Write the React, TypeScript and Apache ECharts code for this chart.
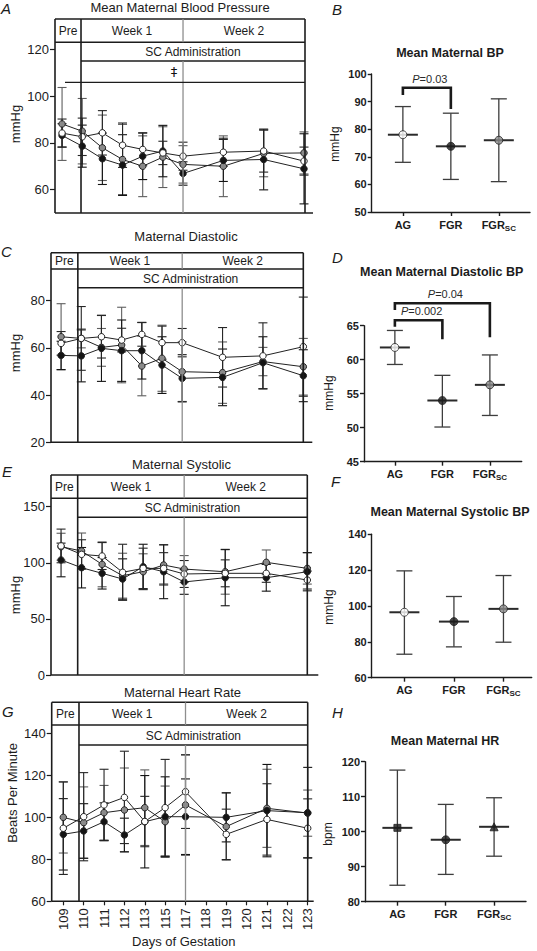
import React, { useEffect, useRef } from "react";
import * as echarts from "echarts";

const FONT = "'Liberation Sans', Arial, Helvetica, sans-serif";
const INK = "#1c1c1c";
const GRAY_LINE = "#8e8e8e";

// ---------- categories ----------
const DAY_LABELS = ["109", "110", "111", "112", "113", "115", "117", "118", "119", "120", "121", "122", "123"];
const MEASURED_DAYS = ["109", "110", "111", "112", "113", "115", "117", "119", "121", "123"];
const GROUPS = ["AG", "FGR", "FGR_SC"];

// ---------- A: Mean Maternal Blood Pressure (mmHg) ----------
const A_AG = [84.2, 82.6, 84.3, 79.0, 77.2, 75.7, 74.3, 76.0, 76.5, 72.2];
const A_AG_SD = [6, 8, 9.5, 9.5, 7, 5, 6, 6, 9, 6];
const A_FGR = [83.2, 78.6, 73.2, 70.5, 74.3, 76.5, 66.9, 72.5, 72.9, 68.9];
const A_FGR_SD = [5, 9, 11, 13, 10, 11, 5, 9, 13, 15];
const A_SC = [88.1, 85.0, 77.9, 72.9, 70.0, 73.9, 70.8, 70.0, 75.5, 75.7];
const A_SC_SD = [15.6, 14, 14, 15, 13, 13, 8, 13, 10, 9];

// ---------- C: Maternal Diastolic (mmHg) ----------
const C_AG = [61.9, 64.0, 64.7, 63.3, 65.7, 62.2, 62.2, 56.0, 56.6, 60.5];
const C_AG_SD = [5, 13.5, 9, 5, 5, 7, 6, 12.6, 14, 21];
const C_FGR = [56.8, 56.6, 59.8, 58.8, 58.8, 52.7, 47.1, 47.5, 53.7, 48.2];
const C_FGR_SD = [6, 11, 14, 13, 12, 12, 10, 12, 11, 11];
const C_SC = [64.7, 64.0, 60.2, 61.2, 52.3, 55.6, 49.9, 49.5, 54.2, 52.0];
const C_SC_SD = [14, 4, 8, 16, 12.6, 14, 12.6, 13, 6, 12];

// ---------- E: Maternal Systolic (mmHg) ----------
const E_AG = [115.0, 107.5, 106.0, 91.5, 95.0, 95.0, 90.0, 90.6, 90.6, 84.6];
const E_AG_SD = [15, 13, 12, 25, 18, 14, 12, 12, 8, 8];
const E_FGR = [102.5, 95.6, 90.6, 85.5, 96.5, 92.0, 82.9, 86.7, 86.7, 92.0];
const E_FGR_SD = [15, 18, 14, 18, 20, 24, 11, 25, 12, 17];
const E_SC = [114.3, 110.5, 98.6, 88.5, 92.0, 98.0, 94.4, 92.0, 100.4, 95.0];
const E_SC_SD = [12, 16, 20, 20, 16, 18, 12, 20, 11, 14];

// ---------- G: Maternal Heart Rate (bpm) ----------
const G_AG = [94.8, 100.3, 105.9, 109.5, 98.0, 104.6, 112.2, 91.9, 99.0, 94.8];
const G_AG_SD = [22, 21, 17, 22, 12, 23, 17.5, 12, 17, 14];
const G_FGR = [91.9, 93.5, 97.9, 91.6, 97.9, 100.3, 100.3, 100.0, 103.2, 102.2];
const G_FGR_SD = [17, 13, 9, 8, 22, 19, 18, 11.7, 22, 21.6];
const G_SC = [100.0, 97.5, 102.2, 103.5, 104.6, 97.9, 105.9, 95.6, 104.3, 102.0];
const G_SC_SD = [17, 17, 13, 20, 18, 17, 24, 16, 18.6, 11];

// ---------- B: Mean Maternal BP ----------
const B_MEAN = [78.0, 73.8, 76.0];
const B_LOW = [68.0, 61.8, 61.0];
const B_HIGH = [88.2, 85.8, 91.0];
const B_SIG = [[0, 1, 95.0, 92.4, 87.3]];
const B_SIG_P = ["0.03"];

// ---------- D: Mean Maternal Diastolic BP ----------
const D_MEAN = [61.8, 54.0, 56.3];
const D_LOW = [59.3, 50.1, 51.8];
const D_HIGH = [64.3, 57.7, 60.7];
const D_SIG = [[0, 1, 65.8, 64.85, 63.0], [0, 2, 68.3, 67.3, 63.3]];
const D_SIG_P = ["0.002", "0.04"];

// ---------- F: Mean Maternal Systolic BP ----------
const F_MEAN = [96.5, 91.3, 98.4];
const F_LOW = [73.1, 77.2, 79.8];
const F_HIGH = [119.6, 105.3, 117.0];

// ---------- H: Mean Maternal HR ----------
const H_MEAN = [101.1, 97.7, 101.4];
const H_LOW = [84.7, 87.8, 93.0];
const H_HIGH = [117.6, 107.8, 109.7];

// ---------- layout ----------
const LEFT_PANELS = [
  {
    letter: "A", letterX: 1, letterY: 8, title: "Mean Maternal Blood Pressure", titleX: 180, titleY: 7,
    yName: "mmHg", yNameX: 15, yNameY: 124,
    left: 55, right: 305, top: 19, bottom: 213, row1: 42.3, row2: 61, axisExt: 8,
    xMin: -0.35, xMax: 12.05, yMin: 50, yMax: 133, yTicks: [60, 80, 100, 120], preIdx: 0.94, weekIdx: 6,
    dagger: true, xLabels: false,
    ag: A_AG, agSd: A_AG_SD, fgr: A_FGR, fgrSd: A_FGR_SD, sc: A_SC, scSd: A_SC_SD,
  },
  {
    letter: "C", letterX: 1, letterY: 251, title: "Maternal Diastolic", titleX: 186, titleY: 236,
    yName: "mmHg", yNameX: 15, yNameY: 353,
    left: 51, right: 303.3, top: 252.7, bottom: 442.3, row1: 269, row2: 287.7, axisExt: 9,
    xMin: -0.5, xMax: 12, yMin: 20, yMax: 100.3, yTicks: [20, 40, 60, 80], preIdx: 0.83, weekIdx: 6,
    dagger: false, xLabels: false,
    ag: C_AG, agSd: C_AG_SD, fgr: C_FGR, fgrSd: C_FGR_SD, sc: C_SC, scSd: C_SC_SD,
  },
  {
    letter: "E", letterX: 2, letterY: 471, title: "Maternal Systolic", titleX: 181.5, titleY: 464.5,
    yName: "mmHg", yNameX: 15, yNameY: 595,
    left: 51, right: 307.3, top: 475, bottom: 675, row1: 498.3, row2: 517.3, axisExt: 11,
    xMin: -0.49, xMax: 12, yMin: 0, yMax: 178.2, yTicks: [0, 50, 100, 150], preIdx: 0.81, weekIdx: 6,
    dagger: false, xLabels: false,
    ag: E_AG, agSd: E_AG_SD, fgr: E_FGR, fgrSd: E_FGR_SD, sc: E_SC, scSd: E_SC_SD,
  },
  {
    letter: "G", letterX: 2, letterY: 711, title: "Maternal Heart Rate", titleX: 182.5, titleY: 692.7,
    yName: "Beats Per Minute", yNameX: 12, yNameY: 793,
    left: 51.7, right: 307.7, top: 702.3, bottom: 901.3, row1: 725, row2: 745, axisExt: 6,
    xMin: -0.57, xMax: 12, yMin: 60, yMax: 154.8, yTicks: [60, 80, 100, 120, 140], preIdx: 0.77, weekIdx: 6,
    dagger: false, xLabels: true,
    ag: G_AG, agSd: G_AG_SD, fgr: G_FGR, fgrSd: G_FGR_SD, sc: G_SC, scSd: G_SC_SD,
  },
];

const RIGHT_PANELS = [
  {
    letter: "B", letterX: 332, letterY: 9, title: "Mean Maternal BP", titleX: 450, titleY: 53,
    yName: "mmHg", yNameX: 335, yNameY: 144,
    left: 371.7, right: 530, top: 74, bottom: 212, xMin: -0.65, xMax: 2.65, yMin: 50, yMax: 100, yInterval: 10,
    mean: B_MEAN, low: B_LOW, high: B_HIGH, sig: B_SIG, sigP: B_SIG_P, shapes: ["circle", "circle", "circle"],
    fills: ["#ffffff", "#1a1a1a", "#8a8a8a"],
  },
  {
    letter: "D", letterX: 332, letterY: 257, title: "Mean Maternal Diastolic BP", titleX: 441.7, titleY: 271.7,
    yName: "mmHg", yNameX: 329, yNameY: 393,
    left: 364, right: 521.7, top: 325.7, bottom: 461.7, xMin: -0.65, xMax: 2.67, yMin: 45, yMax: 65, yInterval: 5,
    mean: D_MEAN, low: D_LOW, high: D_HIGH, sig: D_SIG, sigP: D_SIG_P, shapes: ["circle", "circle", "circle"],
    fills: ["#ffffff", "#1a1a1a", "#8a8a8a"],
  },
  {
    letter: "F", letterX: 331, letterY: 481, title: "Mean Maternal Systolic BP", titleX: 450, titleY: 512.3,
    yName: "mmHg", yNameX: 329, yNameY: 607,
    left: 371.7, right: 531.7, top: 534.3, bottom: 677.7, xMin: -0.66, xMax: 2.57, yMin: 60, yMax: 140, yInterval: 20,
    mean: F_MEAN, low: F_LOW, high: F_HIGH, sig: [], sigP: [], shapes: ["circle", "circle", "circle"],
    fills: ["#ffffff", "#1a1a1a", "#8a8a8a"],
  },
  {
    letter: "H", letterX: 332, letterY: 712, title: "Mean Maternal HR", titleX: 445, titleY: 741,
    yName: "bpm", yNameX: 328, yNameY: 834,
    left: 365, right: 526, top: 761.7, bottom: 901.7, xMin: -0.67, xMax: 2.66, yMin: 80, yMax: 120, yInterval: 10,
    mean: H_MEAN, low: H_LOW, high: H_HIGH, sig: [], sigP: [], shapes: ["rect", "circle", "triangle"],
    fills: ["#1a1a1a", "#1a1a1a", "#1a1a1a"],
  },
];

const SERIES_STYLE = [
  { key: "sc", fill: "#8a8a8a", err: "#5e5e5e" },
  { key: "fgr", fill: "#141414", err: "#141414" },
  { key: "ag", fill: "#ffffff", err: "#262626" },
];

function txt(text: string, x: number, y: number, opts: any = {}) {
  const align = opts.align || "center";
  const va = opts.verticalAlign || "middle";
  return {
    type: "text",
    x,
    y,
    rotation: opts.rotation || 0,
    silent: true,
    z: 20,
    style: {
      text,
      fill: opts.fill || INK,
      fontSize: opts.fontSize || 12,
      fontFamily: opts.fontFamily || FONT,
      fontWeight: opts.fontWeight || "normal",
      fontStyle: opts.fontStyle || "normal",
      align,
      verticalAlign: va,
      textAlign: align,
      textVerticalAlign: va,
    },
  };
}

function seg(x1: number, y1: number, x2: number, y2: number, stroke: string, lineWidth: number) {
  return { type: "line", silent: true, z: 15, shape: { x1, y1, x2, y2 }, style: { stroke, lineWidth } };
}

function errorBarRender(color: string, cap: number, width: number) {
  return (params: any, api: any) => {
    const x = api.value(0);
    const lo = api.coord([x, api.value(1)]);
    const hi = api.coord([x, api.value(2)]);
    const style = { stroke: color, lineWidth: width, fill: "none" };
    return {
      type: "group",
      children: [
        { type: "line", shape: { x1: lo[0], y1: lo[1], x2: hi[0], y2: hi[1] }, style },
        { type: "line", shape: { x1: lo[0] - cap, y1: lo[1], x2: lo[0] + cap, y2: lo[1] }, style },
        { type: "line", shape: { x1: hi[0] - cap, y1: hi[1], x2: hi[0] + cap, y2: hi[1] }, style },
      ],
    };
  };
}

function meanBarRender(color: string) {
  return (params: any, api: any) => {
    const x = api.value(0);
    const m = api.coord([x, api.value(1)]);
    const lo = api.coord([x, api.value(2)]);
    const hi = api.coord([x, api.value(3)]);
    const thin = { stroke: color, lineWidth: 1.3, fill: "none" };
    const thick = { stroke: "#2a2a2a", lineWidth: 2, fill: "none" };
    return {
      type: "group",
      children: [
        { type: "line", shape: { x1: lo[0], y1: lo[1], x2: hi[0], y2: hi[1] }, style: thin },
        { type: "line", shape: { x1: lo[0] - 8, y1: lo[1], x2: lo[0] + 8, y2: lo[1] }, style: thin },
        { type: "line", shape: { x1: hi[0] - 8, y1: hi[1], x2: hi[0] + 8, y2: hi[1] }, style: thin },
        { type: "line", shape: { x1: m[0] - 15, y1: m[1], x2: m[0] + 15, y2: m[1] }, style: thick },
      ],
    };
  };
}

function bracketRender(labels: string[]) {
  return (params: any, api: any) => {
    const x1 = api.value(0);
    const x2 = api.value(1);
    const top = api.value(2);
    const pA = api.coord([x1, api.value(3)]);
    const pB = api.coord([x1, top]);
    const pC = api.coord([x2, top]);
    const pD = api.coord([x2, api.value(4)]);
    const label = labels[params.dataIndex];
    return {
      type: "group",
      children: [
        {
          type: "polyline",
          shape: { points: [pA, pB, pC, pD] },
          style: { stroke: "#1a1a1a", lineWidth: 2.6, fill: "none" },
        },
        {
          type: "text",
          x: (pB[0] + pC[0]) / 2 + 3,
          y: pB[1] - 9,
          style: {
            text: `{i|P}{n|=${label}}`,
            align: "center",
            verticalAlign: "middle",
            textAlign: "center",
            textVerticalAlign: "middle",
            rich: {
              i: { fontSize: 11, fontStyle: "italic", fontFamily: FONT, fill: "#2a2a2a", color: "#2a2a2a" },
              n: { fontSize: 11, fontFamily: FONT, fill: "#2a2a2a", color: "#2a2a2a" },
            },
          },
        },
      ],
    };
  };
}

const groupLabel = (g: string) => (g === "FGR_SC" ? "{b|FGR}{s|SC}" : `{b|${g}}`);

function buildOption() {
  const grid: any[] = [];
  const xAxis: any[] = [];
  const yAxis: any[] = [];
  const series: any[] = [];
  const graphic: any[] = [];
  const DAY_IDX = DAY_LABELS.map((_, i) => i);

  LEFT_PANELS.forEach((p: any, gi: number) => {
    const width = p.right - p.left;
    const height = p.bottom - p.top;
    grid.push({ left: p.left, top: p.top, width, height, containLabel: false });
    xAxis.push({
      type: "value",
      gridIndex: gi,
      min: p.xMin,
      max: p.xMax,
      splitLine: { show: false },
      axisLine: { show: false, onZero: false },
      axisTick: { show: p.xLabels, customValues: DAY_IDX, length: 4, lineStyle: { color: INK, width: 1.2 } },
      axisLabel: {
        show: p.xLabels,
        customValues: DAY_IDX,
        rotate: 90,
        margin: 7,
        fontSize: 13,
        fontFamily: FONT,
        color: INK,
        formatter: (v: number) => DAY_LABELS[Math.round(v)] ?? "",
      },
    });
    yAxis.push({
      type: "value",
      gridIndex: gi,
      min: p.yMin,
      max: p.yMax,
      splitLine: { show: false },
      axisLine: { show: false, onZero: false },
      axisTick: { show: true, customValues: p.yTicks, length: 5, lineStyle: { color: INK, width: 1.2 } },
      axisLabel: { customValues: p.yTicks, margin: 6, fontSize: 13, fontFamily: FONT, color: INK },
    });

    SERIES_STYLE.forEach((s) => {
      const mean: number[] = p[s.key];
      const sd: number[] = p[s.key + "Sd"];
      series.push({
        type: "custom",
        xAxisIndex: gi,
        yAxisIndex: gi,
        z: 2,
        silent: true,
        encode: { x: 0, y: [1, 2] },
        renderItem: errorBarRender(s.err, 4.5, 1.1),
        data: MEASURED_DAYS.map((d, i) => [DAY_LABELS.indexOf(d), mean[i] - sd[i], mean[i] + sd[i]]),
      });
    });
    SERIES_STYLE.forEach((s) => {
      const mean: number[] = p[s.key];
      series.push({
        type: "line",
        xAxisIndex: gi,
        yAxisIndex: gi,
        z: 3,
        silent: true,
        symbol: "circle",
        symbolSize: 6.5,
        showSymbol: true,
        lineStyle: { color: "#222", width: 1 },
        itemStyle: { color: s.fill, borderColor: "#222", borderWidth: 1 },
        emphasis: { disabled: true },
        data: MEASURED_DAYS.map((d, i) => [DAY_LABELS.indexOf(d), mean[i]]),
      });
    });

    // header boxes
    const px = (idx: number) => p.left + ((idx - p.xMin) / (p.xMax - p.xMin)) * width;
    const L = p.left, R = p.right, T = p.top, B = p.bottom;
    const P = px(p.preIdx);
    const W = px(p.weekIdx);
    const lw = 1.6;
    graphic.push(seg(L, T, R, T, INK, lw));
    graphic.push(seg(L, T, L, B, INK, lw));
    graphic.push(seg(R, T, R, B, INK, lw));
    graphic.push(seg(L, p.row1, R, p.row1, INK, lw));
    graphic.push(seg(P, p.row2, R, p.row2, INK, lw));
    graphic.push(seg(P, T, P, B, INK, lw));
    graphic.push(seg(L, B, R + p.axisExt, B, INK, lw));
    graphic.push(seg(W, T, W, p.row1, GRAY_LINE, 1.3));
    graphic.push(seg(W, p.row2, W, B, GRAY_LINE, 1.3));
    const r1c = (T + p.row1) / 2 + 0.5;
    graphic.push(txt("Pre", (L + P) / 2, r1c));
    graphic.push(txt("Week 1", (P + W) / 2, r1c));
    graphic.push(txt("Week 2", (W + R) / 2, r1c));
    graphic.push(txt("SC Administration", (P + R) / 2, (p.row1 + p.row2) / 2 + 0.5));
    if (p.dagger) {
      const dy = p.row2 + 21.3;
      graphic.push(seg(L + 10, dy, R, dy, INK, 1.3));
      graphic.push(txt("\u2021", W - 9, (p.row2 + dy) / 2, { fontSize: 13, fontFamily: "'DejaVu Sans', 'Liberation Sans', sans-serif", fill: "#111111" }));
    }
    graphic.push(txt(p.title, p.titleX, p.titleY, { fontSize: 13 }));
    graphic.push(txt(p.letter, p.letterX, p.letterY, { fontSize: 15, fontStyle: "italic", align: "left" }));
    graphic.push(txt(p.yName, p.yNameX, p.yNameY, { fontSize: 13, rotation: Math.PI / 2 }));
    if (p.xLabels) {
      graphic.push(txt("Days of Gestation", (L + R) / 2 + 4, 941, { fontSize: 13 }));
    }
  });

  RIGHT_PANELS.forEach((p: any, k: number) => {
    const gi = LEFT_PANELS.length + k;
    const width = p.right - p.left;
    const height = p.bottom - p.top;
    grid.push({ left: p.left, top: p.top, width, height, containLabel: false });
    xAxis.push({
      type: "value",
      gridIndex: gi,
      min: p.xMin,
      max: p.xMax,
      splitLine: { show: false },
      axisLine: { show: true, onZero: false, lineStyle: { color: INK, width: 1.4 } },
      axisTick: { show: true, customValues: [0, 1, 2], length: 4, lineStyle: { color: INK, width: 1.4 } },
      axisLabel: {
        customValues: [0, 1, 2],
        margin: 7,
        formatter: (v: number) => groupLabel(GROUPS[Math.round(v)] ?? ""),
        rich: {
          b: { fontSize: 11, fontWeight: "bold", fontFamily: FONT, color: INK, verticalAlign: "top", lineHeight: 13 },
          s: { fontSize: 8, fontWeight: "bold", fontFamily: FONT, color: INK, verticalAlign: "bottom", lineHeight: 9, padding: [7, 0, 0, 0] },
        },
      },
    });
    yAxis.push({
      type: "value",
      gridIndex: gi,
      min: p.yMin,
      max: p.yMax,
      interval: p.yInterval,
      splitLine: { show: false },
      axisLine: { show: true, onZero: false, lineStyle: { color: INK, width: 1.4 } },
      axisTick: { show: true, length: 4, lineStyle: { color: INK, width: 1.4 } },
      axisLabel: { margin: 5, fontSize: 11, fontWeight: "bold", fontFamily: FONT, color: INK },
    });
    series.push({
      type: "custom",
      xAxisIndex: gi,
      yAxisIndex: gi,
      z: 2,
      silent: true,
      encode: { x: 0, y: [1, 2, 3] },
      renderItem: meanBarRender("#3d3d3d"),
      data: GROUPS.map((_, i) => [i, p.mean[i], p.low[i], p.high[i]]),
    });
    series.push({
      type: "scatter",
      xAxisIndex: gi,
      yAxisIndex: gi,
      z: 4,
      silent: true,
      symbolSize: 8,
      emphasis: { disabled: true },
      data: GROUPS.map((_, i) => ({
        value: [i, p.mean[i]],
        symbol: p.shapes[i],
        symbolSize: p.shapes[i] === "rect" ? 7 : 8,
        itemStyle: { color: p.fills[i], borderColor: "#222", borderWidth: 1 },
      })),
    });
    if (p.sig.length) {
      series.push({
        type: "custom",
        xAxisIndex: gi,
        yAxisIndex: gi,
        z: 5,
        silent: true,
        clip: false,
        encode: { x: [0, 1], y: [2, 3, 4] },
        renderItem: bracketRender(p.sigP),
        data: p.sig,
      });
    }
    graphic.push(txt(p.title, p.titleX, p.titleY, { fontSize: 12.5, fontWeight: "bold" }));
    graphic.push(txt(p.letter, p.letterX, p.letterY, { fontSize: 15, fontStyle: "italic", align: "left" }));
    graphic.push(txt(p.yName, p.yNameX, p.yNameY, { fontSize: 12, rotation: Math.PI / 2 }));
  });

  return {
    animation: false,
    backgroundColor: "#ffffff",
    textStyle: { fontFamily: FONT },
    grid,
    xAxis,
    yAxis,
    series,
    graphic: { elements: graphic },
  };
}

export default function App() {
  const ref = useRef<HTMLDivElement>(null);
  useEffect(() => {
    if (!ref.current) return;
    const chart = echarts.init(ref.current, null, { renderer: "svg", width: 537, height: 951 });
    chart.setOption(buildOption() as any);
    return () => chart.dispose();
  }, []);
  return (
    <div
      ref={ref}
      style={{ position: "absolute", left: 0, top: 0, width: 537, height: 951, background: "#ffffff" }}
    />
  );
}
